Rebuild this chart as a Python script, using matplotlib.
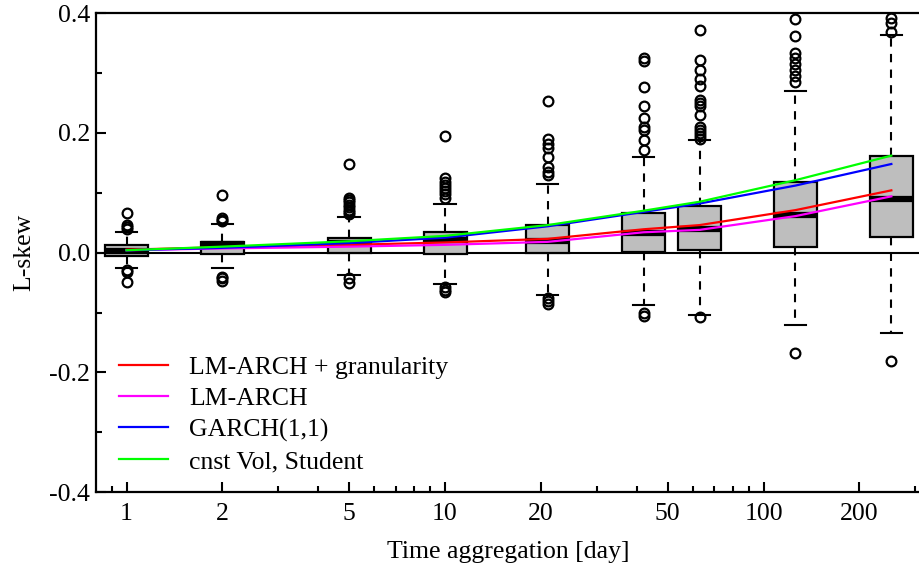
import numpy as np
import matplotlib
matplotlib.use("Agg")
from matplotlib import pyplot as plt
from matplotlib.patches import Rectangle
from matplotlib.ticker import FixedLocator, FixedFormatter, FormatStrFormatter

plt.rcParams['font.family'] = ['Liberation Serif', 'DejaVu Serif']
plt.rcParams['axes.unicode_minus'] = False

# time aggregation horizons [day]
horizons = [1, 2, 5, 10, 21, 42, 63, 126, 252]

# box statistics of the empirical L-skew
q1 = [-0.005, -0.002, -0.001, -0.003, 0.000, 0.001, 0.004, 0.010, 0.026]
med = [0.003, 0.014, 0.016, 0.021, 0.020, 0.033, 0.039, 0.063, 0.089]
q3 = [0.012, 0.0175, 0.024, 0.034, 0.046, 0.066, 0.078, 0.118, 0.161]
whislo = [-0.026, -0.026, -0.038, -0.053, -0.071, -0.088, -0.104, -0.121, -0.135]
whishi = [0.034, 0.047, 0.059, 0.082, 0.114, 0.160, 0.188, 0.270, 0.363]
fliers = [
    [0.066, 0.046, 0.043, 0.040, -0.029, -0.033, -0.049],
    [0.096, 0.058, 0.055, 0.052, -0.040, -0.043, -0.047],
    [0.148, 0.092, 0.088, 0.084, 0.080, 0.076, 0.072, 0.068, 0.064, -0.043, -0.051],
    [0.195, 0.124, 0.118, 0.113, 0.108, 0.103, 0.098, 0.092, -0.057, -0.062, -0.066],
    [0.253, 0.190, 0.182, 0.175, 0.160, 0.143, 0.135, 0.130, -0.076, -0.080, -0.085],
    [0.325, 0.320, 0.276, 0.245, 0.225, 0.210, 0.205, 0.188, 0.171, -0.100, -0.105],
    [0.372, 0.321, 0.305, 0.290, 0.278, 0.255, 0.250, 0.245, 0.230, 0.210,
     0.205, 0.200, 0.195, 0.190, -0.107],
    [0.390, 0.361, 0.333, 0.325, 0.315, 0.305, 0.295, 0.285, -0.168],
    [0.391, 0.383, 0.368, -0.181],
]

# model predictions at the same horizons
models = ["LM-ARCH + granularity", "LM-ARCH", "GARCH(1,1)", "cnst Vol, Student"]
colors = ["#ff0000", "#ff00ff", "#0000ff", "#00ff00"]
lm_gran = [0.005, 0.009, 0.013, 0.017, 0.023, 0.039, 0.046, 0.071, 0.104]
lm_arch = [0.004, 0.007, 0.010, 0.013, 0.018, 0.034, 0.038, 0.061, 0.094]
garch = [0.004, 0.008, 0.016, 0.025, 0.044, 0.068, 0.082, 0.112, 0.148]
student = [0.004, 0.010, 0.019, 0.028, 0.046, 0.070, 0.085, 0.121, 0.162]
curves = [lm_gran, lm_arch, garch, student]

fs = 18.5

fig = plt.figure(figsize=(9.2, 5.69), dpi=100)
ax = fig.add_axes([0.104, 0.135, 0.896, 0.842])
ax.set_xscale('log')

half = 10 ** 0.0675   # half box width in log space
cap = 10 ** 0.034
for i, x in enumerate(horizons):
    lo, hi = x / half, x * half
    ax.add_patch(Rectangle((lo, q1[i]), hi - lo, q3[i] - q1[i], facecolor='#bebebe',
                           edgecolor='black', linewidth=1.6, zorder=2))
    ax.plot([lo, hi], [med[i], med[i]], color='black', linewidth=4.5, solid_capstyle='butt', zorder=3)
    ax.plot([x, x], [q3[i], whishi[i]], color='black', linewidth=1.5, linestyle=(0, (4, 3.5)), zorder=2)
    ax.plot([x, x], [q1[i], whislo[i]], color='black', linewidth=1.5, linestyle=(0, (4, 3.5)), zorder=2)
    ax.plot([x / cap, x * cap], [whishi[i]] * 2, color='black', linewidth=1.5, zorder=2)
    ax.plot([x / cap, x * cap], [whislo[i]] * 2, color='black', linewidth=1.5, zorder=2)
    ax.plot([x] * len(fliers[i]), fliers[i], linestyle='none', marker='o', markersize=7,
            markerfacecolor='none', markeredgecolor='black', markeredgewidth=1.6, zorder=4)

ax.axhline(0, color='black', linewidth=1.5, zorder=1)

for name, c, y in zip(models, colors, curves):
    ax.plot(horizons, y, color=c, linewidth=1.6, label=name, zorder=5)

ax.set_xlim(0.8, 310)
ax.set_ylim(-0.4, 0.4)

ax.xaxis.set_major_locator(FixedLocator([1, 2, 5, 10, 20, 50, 100, 200]))
ax.xaxis.set_major_formatter(FixedFormatter(['1', '2', '5', '10', '20', '50', '100', '200']))
ax.xaxis.set_minor_locator(FixedLocator([0.9, 3, 4, 6, 7, 8, 9, 30, 40, 60, 70, 80, 90, 300]))
ax.xaxis.set_minor_formatter(FixedFormatter([]))
ax.yaxis.set_major_locator(FixedLocator([-0.4, -0.2, 0.0, 0.2, 0.4]))
ax.yaxis.set_minor_locator(FixedLocator([-0.3, -0.1, 0.1, 0.3]))
ax.yaxis.set_major_formatter(FormatStrFormatter('%.1f'))

ax.tick_params(which='major', direction='in', length=7.5, width=1.5, labelsize=fs, pad=8)
ax.tick_params(which='minor', direction='in', length=4.5, width=1.5)
ax.tick_params(axis='y', which='major', pad=4)

for s in ['left', 'top', 'bottom']:
    ax.spines[s].set_linewidth(1.6)
ax.spines['right'].set_visible(False)

ax.set_xlabel('Time aggregation [day]', fontsize=fs, labelpad=11)
ax.set_ylabel('L-skew', fontsize=fs, labelpad=10)

ax.legend(loc='lower left', bbox_to_anchor=(0.028, 0.04), frameon=False, fontsize=fs,
          borderaxespad=0, borderpad=0, handlelength=1.9, handletextpad=0.85,
          labelspacing=0.32)

fig.savefig('out.png', dpi=100)
